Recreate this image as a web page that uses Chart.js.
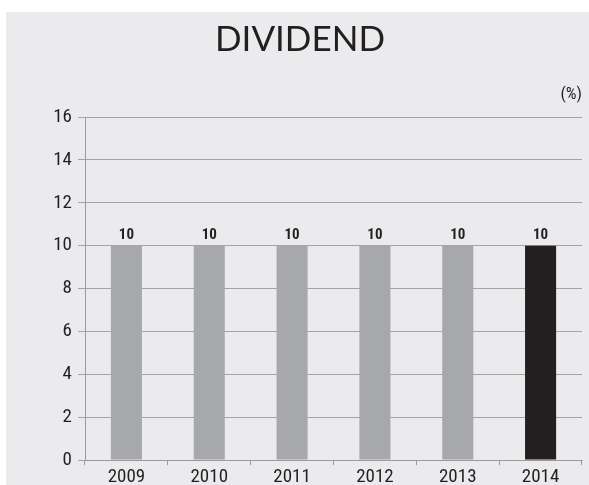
<!DOCTYPE html>
<html lang="en">
<head>
    <meta charset="UTF-8">
    <title>Dividend</title>
    <script src="https://cdn.jsdelivr.net/npm/chart.js"></script>
    <style>
        html, body {
            margin: 0;
            padding: 0;
            background: #ffffff;
        }
        #wrap {
            width: 589px;
            height: 485px;
        }
    </style>
</head>
<body>
    <div id="wrap"><canvas id="myChart" width="589" height="485"></canvas></div>

    <script>
        const years = ['2009', '2010', '2011', '2012', '2013', '2014'];
        const dividend = [10, 10, 10, 10, 10, 10];
        const barColors = ['#a7a8ab', '#a7a8ab', '#a7a8ab', '#a7a8ab', '#a7a8ab', '#231f20'];
        const yTicks = [0, 2, 4, 6, 8, 10, 12, 14, 16];

        const narrow = '"Roboto Condensed", "Liberation Sans Narrow", sans-serif';

        const decor = {
            id: 'decor',
            beforeDraw(chart) {
                const c = chart.ctx;
                c.save();
                c.fillStyle = '#ffffff';
                c.fillRect(0, 0, chart.width, chart.height);
                c.fillStyle = '#ebebed';
                c.fillRect(6, 12, chart.width - 6, chart.height - 12);
                c.restore();
            },
            afterDraw(chart) {
                const c = chart.ctx;
                c.save();
                c.fillStyle = '#231f20';
                c.font = '35px Lato, "Open Sans", sans-serif';
                c.textAlign = 'center';
                c.textBaseline = 'alphabetic';
                c.fillText('DIVIDEND', 300, 51);

                c.font = '17px ' + narrow;
                c.textAlign = 'right';
                c.fillText('(%)', 582, 99);

                // value labels above bars
                c.font = 'bold 15px ' + narrow;
                c.textAlign = 'center';
                const meta = chart.getDatasetMeta(0);
                meta.data.forEach((bar, i) => {
                    c.fillText(String(dividend[i]), bar.x, bar.y - 7);
                });
                c.restore();
            }
        };

        new Chart(document.getElementById('myChart'), {
            type: 'bar',
            data: {
                labels: years,
                datasets: [{
                    data: dividend,
                    backgroundColor: barColors,
                    borderWidth: 0,
                    categoryPercentage: 1,
                    barPercentage: 0.375
                }]
            },
            options: {
                responsive: false,
                animation: false,
                devicePixelRatio: 1,
                layout: { padding: { top: 117, right: 7, left: 0, bottom: 0 } },
                plugins: {
                    legend: { display: false },
                    tooltip: { enabled: false },
                    title: { display: false }
                },
                scales: {
                    x: {
                        offset: true,
                        grid: {
                            offset: true,
                            drawOnChartArea: false,
                            drawTicks: true,
                            tickLength: 5,
                            color: '#9a9a9a'
                        },
                        border: { color: '#9a9a9a', width: 1 },
                        ticks: {
                            color: '#231f20',
                            font: { family: narrow, size: 19 },
                            padding: 1
                        },
                        afterFit(scale) { scale.height = 25; }
                    },
                    y: {
                        min: 0,
                        max: 16,
                        afterBuildTicks(scale) {
                            scale.ticks = yTicks.map(v => ({ value: v }));
                        },
                        grid: {
                            color: '#a4a4a4',
                            tickLength: 7,
                            lineWidth: 1
                        },
                        border: { color: '#9a9a9a', width: 1 },
                        ticks: {
                            color: '#231f20',
                            font: { family: narrow, size: 19 },
                            padding: 6
                        },
                        afterFit(scale) { scale.width = 85; }
                    }
                }
            },
            plugins: [decor]
        });
    </script>
</body>
</html>
